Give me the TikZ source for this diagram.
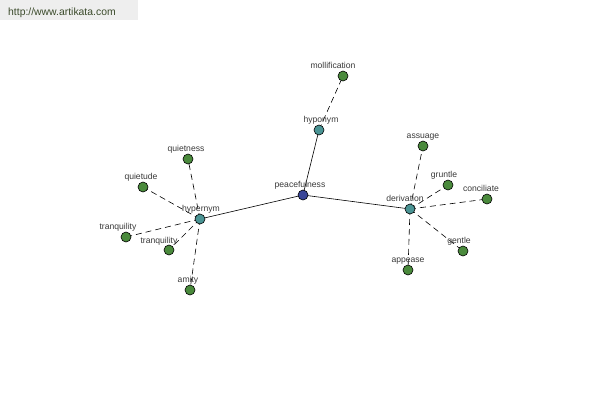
\documentclass[tikz,border=0pt]{standalone}
\usepackage{fontspec}
\setmainfont{Liberation Sans}
\definecolor{leaf}{HTML}{4A8A3C}
\definecolor{mid}{HTML}{4A9494}
\definecolor{root}{HTML}{3A4698}
\definecolor{txt}{HTML}{3A3A3A}
\definecolor{wmtxt}{HTML}{3A4A2A}
\definecolor{wmbg}{HTML}{EEEEEE}
\tikzset{
  dot/.style={circle,draw=black,line width=0.6pt,minimum size=10pt,inner sep=0pt},
  leafdot/.style={dot,fill=leaf},
  middot/.style={dot,fill=mid},
  rootdot/.style={dot,fill=root},
  lbl/.style={font=\fontsize{8.6}{10}\selectfont,text=txt,inner sep=0pt,anchor=base},
  solidedge/.style={draw=black,line width=0.6pt},
  dashedge/.style={draw=black,line width=0.6pt,dash pattern=on 6pt off 4pt},
}
\begin{document}
\begin{tikzpicture}[x=1pt,y=-1pt]
\useasboundingbox (0,0) rectangle (600,400);
\fill[white] (0,0) rectangle (600,400);
\fill[wmbg] (0,0) rectangle (138,20);
\node[font=\fontsize{10.4}{12}\selectfont,text=wmtxt,anchor=base west,inner sep=0pt] (wm) at (8,15) {http://www.artikata.com};
% coordinates
\coordinate (peace) at (303,195);
\coordinate (hypo) at (319,130);
\coordinate (moll) at (343,76);
\coordinate (deri) at (410,209);
\coordinate (assu) at (423,146);
\coordinate (grun) at (448,185);
\coordinate (conc) at (487,199);
\coordinate (gent) at (463,251);
\coordinate (appe) at (408,270);
\coordinate (hyper) at (200,219);
\coordinate (quin) at (188,159);
\coordinate (quid) at (143,187);
\coordinate (tra) at (126,237);
\coordinate (trb) at (169,250);
\coordinate (amit) at (190,290);
% edges
\draw[solidedge] (peace) -- (hypo);
\draw[solidedge] (peace) -- (deri);
\draw[solidedge] (peace) -- (hyper);
\draw[dashedge] (hypo) -- (moll);
\foreach \t in {assu,grun,conc,gent,appe} \draw[dashedge] (deri) -- (\t);
\foreach \t in {quin,quid,tra,trb,amit} \draw[dashedge] (hyper) -- (\t);
% nodes
\node[rootdot] (npeace) at (peace) {};
\node[middot] (nhypo) at (hypo) {};
\node[leafdot] (nmoll) at (moll) {};
\node[middot] (nderi) at (deri) {};
\node[leafdot] (nassu) at (assu) {};
\node[leafdot] (ngrun) at (grun) {};
\node[leafdot] (nconc) at (conc) {};
\node[leafdot] (ngent) at (gent) {};
\node[leafdot] (nappe) at (appe) {};
\node[middot] (nhyper) at (hyper) {};
\node[leafdot] (nquin) at (quin) {};
\node[leafdot] (nquid) at (quid) {};
\node[leafdot] (ntra) at (tra) {};
\node[leafdot] (ntrb) at (trb) {};
\node[leafdot] (namit) at (amit) {};
% labels
\node[lbl] (lpeace) at (300,187) {peacefulness};
\node[lbl] (lhypo) at (321,122) {hyponym};
\node[lbl] (lmoll) at (333,68) {mollification};
\node[lbl] (lderi) at (405,201) {derivation};
\node[lbl] (lassu) at (423,138) {assuage};
\node[lbl] (lgrun) at (444,177) {gruntle};
\node[lbl] (lconc) at (481,191) {conciliate};
\node[lbl] (lgent) at (459,243) {gentle};
\node[lbl] (lappe) at (408,262) {appease};
\node[lbl] (lhyper) at (201,211) {hypernym};
\node[lbl] (lquin) at (186,151) {quietness};
\node[lbl] (lquid) at (141,179) {quietude};
\node[lbl] (ltra) at (118,229) {tranquility};
\node[lbl] (ltrb) at (159,243) {tranquility};
\node[lbl] (lamit) at (188,282) {amity};
\end{tikzpicture}
\end{document}
